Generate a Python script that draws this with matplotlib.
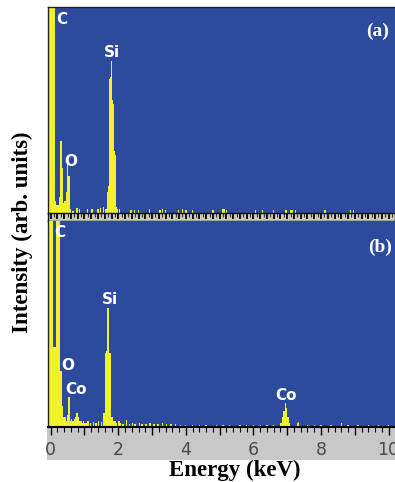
import matplotlib
matplotlib.use("Agg")
import matplotlib.pyplot as plt
from matplotlib.patches import Rectangle
from matplotlib.ticker import MultipleLocator, FuncFormatter

# ---- data (energy in keV, intensity as fraction of panel height) ----
# panel (a)
a_energy = [-0.10, -0.06, -0.02, 0.02, 0.06, 0.10, 0.14, 0.18, 0.22, 0.26, 0.30, 0.34,
            0.38, 0.42, 0.46, 0.50, 0.54, 0.58, 0.66, 0.78, 0.86, 1.08, 1.22, 1.40,
            1.48, 1.56, 1.62,
            1.66, 1.68, 1.70, 1.72, 1.74, 1.76, 1.78, 1.80, 1.82, 1.84, 1.86, 1.88,
            1.90, 1.92, 1.94, 1.96,
            2.04, 2.38, 2.48, 2.60, 2.92, 3.24, 3.30, 3.40, 3.78, 3.90, 4.00, 4.20,
            4.80, 5.10, 5.14, 5.20, 6.06, 6.26, 6.60, 6.96, 7.10, 7.14, 7.24, 8.12,
            8.88, 8.96]
a_counts = [0.19, 0.19, 1.20, 1.20, 1.20, 1.20, 0.06, 0.04, 0.04, 0.08, 0.35, 0.22,
            0.05, 0.06, 0.10, 0.25, 0.18, 0.02, 0.01, 0.025, 0.02, 0.02, 0.02, 0.02,
            0.025, 0.03, 0.02,
            0.02, 0.04, 0.10, 0.13, 0.60, 0.65, 0.66, 0.74, 0.55, 0.53, 0.50, 0.30,
            0.28, 0.05, 0.03, 0.02,
            0.02, 0.015, 0.015, 0.015, 0.02, 0.015, 0.02, 0.015, 0.015, 0.02, 0.015, 0.015,
            0.015, 0.02, 0.02, 0.015, 0.015, 0.015, 0.015, 0.015, 0.015, 0.015, 0.015, 0.015,
            0.015, 0.015]

# panel (b)
b_energy = [-0.10, -0.06, -0.02, 0.02, 0.06, 0.10, 0.14, 0.18, 0.22, 0.26, 0.30, 0.34,
            0.38, 0.42, 0.46, 0.50, 0.54, 0.58, 0.62, 0.66, 0.70, 0.74, 0.78, 0.82,
            0.86, 0.90, 0.94, 0.98, 1.02, 1.06, 1.10, 1.18, 1.26, 1.34, 1.42, 1.50,
            1.58, 1.62, 1.64, 1.66, 1.68, 1.70, 1.72, 1.74, 1.76, 1.78, 1.82, 1.86,
            1.90, 1.94, 2.02, 2.06, 2.14, 2.24, 2.34, 2.42, 2.50, 2.62, 2.70, 2.82,
            2.94, 3.06, 3.18, 3.30, 3.42, 3.56, 3.70, 3.84, 3.98, 4.20, 4.40, 4.60,
            4.90, 5.10, 5.30, 5.60, 5.80, 6.00, 6.20, 6.40, 6.60,
            6.82, 6.86, 6.90, 6.94, 6.98, 7.02, 7.06, 7.30, 7.34,
            7.60, 7.80, 8.00, 8.30, 8.60, 8.80, 9.10, 9.40, 9.70, 10.00]
b_counts = [0.15, 0.16, 1.20, 1.20, 1.20, 0.39, 0.39, 1.20, 1.20, 1.20, 0.27, 0.10,
            0.05, 0.05, 0.03, 0.06, 0.146, 0.03, 0.04, 0.03, 0.04, 0.05, 0.07, 0.05,
            0.03, 0.03, 0.02, 0.03, 0.02, 0.02, 0.03, 0.02, 0.025, 0.02, 0.03, 0.025,
            0.07, 0.10, 0.36, 0.37, 0.37, 0.58, 0.58, 0.36, 0.36, 0.05, 0.05, 0.03,
            0.03, 0.02, 0.03, 0.02, 0.015, 0.035, 0.015, 0.02, 0.015, 0.02, 0.015, 0.015,
            0.02, 0.015, 0.015, 0.02, 0.015, 0.015, 0.015, 0.012, 0.012, 0.01, 0.01, 0.012,
            0.01, 0.01, 0.012, 0.01, 0.012, 0.012, 0.01, 0.012, 0.01,
            0.02, 0.05, 0.08, 0.115, 0.09, 0.05, 0.02, 0.02, 0.025,
            0.01, 0.012, 0.01, 0.01, 0.02, 0.01, 0.01, 0.012, 0.01, 0.01]

# peak labels: (text, energy, height)
a_labels = [("C", 0.32, 0.94), ("Si", 1.80, 0.78), ("O", 0.59, 0.25)]
b_labels = [("C", 0.26, 0.945), ("Si", 1.74, 0.62), ("O", 0.50, 0.30),
            ("Co", 0.76, 0.18), ("Co", 6.96, 0.155)]

tick_values = [0, 2, 4, 6, 8, 10]

# ---- style ----
blue = '#2d4b9c'
yellow = '#f2f229'
gray = '#c8c8c8'
x_lim = (-0.08, 10.19)
W, H = 395, 482


def fx(px):
    return px / W


def fy(py):
    return 1 - py / H


def draw_spectrum(ax, energy, counts, labels, panel):
    ax.set_facecolor(blue)
    ax.bar(energy, counts, width=0.04, color=yellow, linewidth=0, zorder=2)
    ax.set_xlim(x_lim)
    ax.set_ylim(0, 1)
    ax.set_yticks([])
    for txt, ex, ey in labels:
        ax.text(ex, ey, txt, color='white', fontsize=11, fontweight='bold',
                family='DejaVu Sans', ha='center', va='center', zorder=3)
    ax.text(panel[1], panel[2], panel[0], color='white', fontsize=14, fontweight='bold',
            family='Liberation Serif', ha='center', va='center', zorder=3)
    for s in ['left', 'top']:
        ax.spines[s].set_color('#222222')
        ax.spines[s].set_linewidth(1.0)
    ax.spines['right'].set_visible(False)


fig = plt.figure(figsize=(W / 100, H / 100), dpi=100)

ax_a = fig.add_axes([fx(48), fy(213), 1 - fx(48), fy(7) - fy(213)])
strip = fig.add_axes([fx(48), fy(221), 1 - fx(48), fy(213) - fy(221)])
ax_b = fig.add_axes([fx(48), fy(427), 1 - fx(48), fy(221) - fy(427)])

draw_spectrum(ax_a, a_energy, a_counts, a_labels, ("(a)", 9.67, 0.88))
ax_a.set_xticks([])
ax_a.spines['bottom'].set_visible(False)

draw_spectrum(ax_b, b_energy, b_counts, b_labels, ("(b)", 9.76, 0.87))
ax_b.spines['bottom'].set_color('black')
ax_b.spines['bottom'].set_linewidth(1.5)
ax_b.spines['top'].set_visible(False)
ax_b.xaxis.set_major_locator(MultipleLocator(1))
ax_b.xaxis.set_minor_locator(MultipleLocator(0.2))
ax_b.xaxis.set_major_formatter(FuncFormatter(
    lambda v, p: '%d' % round(v) if round(v) in tick_values and abs(v - round(v)) < 1e-6 else ''))
ax_b.tick_params(axis='x', which='major', direction='out', length=6, width=1.0,
                 color='black', labelsize=12.5, labelcolor='#4a4a4a', pad=4)
ax_b.tick_params(axis='x', which='minor', direction='out', length=3.5, width=0.8, color='black')
for lab in ax_b.get_xticklabels():
    lab.set_family(['Liberation Sans Narrow', 'DejaVu Sans'])

# ruler strip between the two panels
strip.set_facecolor(gray)
strip.set_xlim(x_lim)
strip.set_yticks([])
strip.xaxis.set_major_locator(MultipleLocator(0.2))
strip.xaxis.set_minor_locator(MultipleLocator(0.1))
strip.tick_params(axis='x', which='major', direction='in', top=True, bottom=False,
                  labelbottom=False, length=4.5, width=1.4, color='#111111')
strip.tick_params(axis='x', which='minor', direction='in', top=True, bottom=False,
                  length=3, width=0.8, color='#333333')
for s in strip.spines.values():
    s.set_color('#111111')
    s.set_linewidth(1.0)

# gray band under the lower panel
fig.patches.append(Rectangle((fx(47), fy(460)), 1 - fx(47), fy(427) - fy(460),
                             transform=fig.transFigure, facecolor=gray, edgecolor='none',
                             zorder=-1))

fig.text(fx(235), fy(470), "Energy (keV)", family='Liberation Serif', fontweight='bold',
         fontsize=16.5, ha='center', va='center')
fig.text(fx(22), fy(232), "Intensity (arb. units)", family='Liberation Serif',
         fontweight='bold', fontsize=16.5, rotation=90, ha='center', va='center')

fig.savefig('out.png', dpi=100)
